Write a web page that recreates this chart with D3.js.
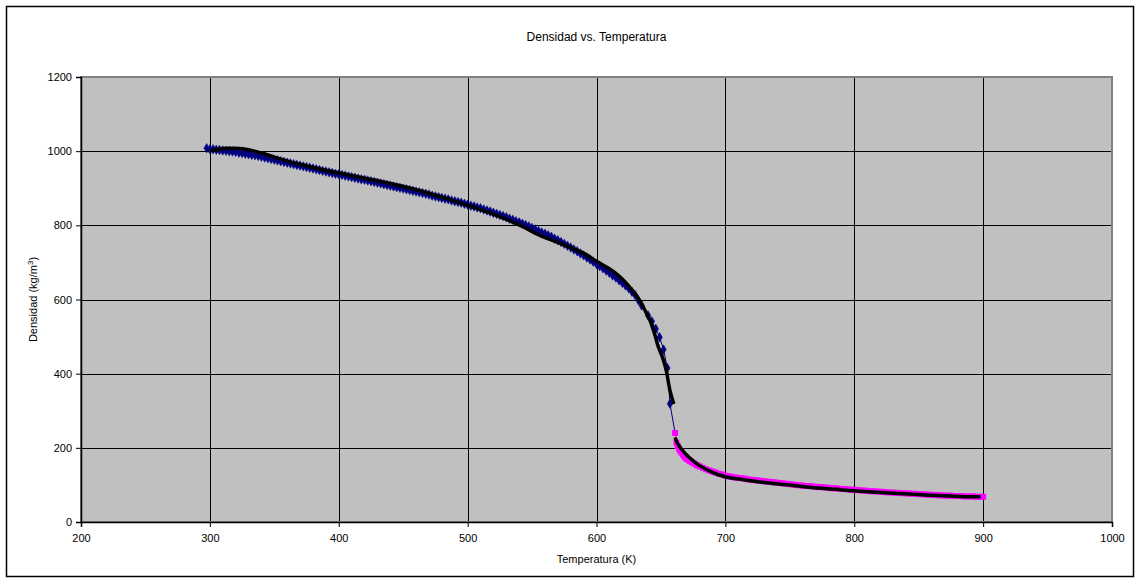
<!DOCTYPE html>
<html>
<head>
<meta charset="utf-8">
<script src="https://cdn.jsdelivr.net/npm/d3@7"></script>
<style>
  html, body { margin: 0; padding: 0; background: #fff; }
  svg { display: block; }
  text { font-family: "Liberation Sans", Arial, sans-serif; fill: #000; }
</style>
</head>
<body>
<svg id="chart" width="1141" height="583"></svg>
<script>
// Liquid-phase measurements (K, kg/m^3)
const liqTemp = [297.5, 300, 302.5, 305, 307.5, 310, 312.5, 315, 317.5, 320, 322.5, 325, 327.5, 330, 332.5, 335, 337.5, 340,
  342.5, 345, 347.5, 350, 352.5, 355, 357.5, 360, 362.5, 365, 367.5, 370, 372.5, 375, 377.5, 380, 382.5, 385, 387.5, 390,
  392.5, 395, 397.5, 400, 402.5, 405, 407.5, 410, 412.5, 415, 417.5, 420, 422.5, 425, 427.5, 430, 432.5, 435, 437.5, 440,
  442.5, 445, 447.5, 450, 452.5, 455, 457.5, 460, 462.5, 465, 467.5, 470, 472.5, 475, 477.5, 480, 482.5, 485, 487.5, 490,
  492.5, 495, 497.5, 500, 502.5, 505, 507.5, 510, 512.5, 515, 517.5, 520, 522.5, 525, 527.5, 530, 532.5, 535, 537.5, 540,
  542.5, 545, 547.5, 550, 552.5, 555, 557.5, 560, 562.5, 565, 567.5, 570, 572.5, 575, 577.5, 580, 582.5, 585, 587.5, 590,
  592.5, 595, 597.5, 600, 602.5, 605, 607.5, 610, 612.5, 615, 617.5, 620, 622.5, 625, 627.5, 630, 632.5, 635,
  640, 643, 646, 649, 652, 655, 657];
const liqDens = [1008, 1005, 1005, 1004, 1003, 1002, 1001, 1000, 999, 998, 996, 995, 993, 992, 990, 989, 987, 985,
  983, 981, 979, 977, 975, 973, 971, 969, 967, 965, 963, 961, 959, 957, 955, 953, 951, 949, 947, 945,
  943, 941, 939, 938, 936, 934, 932, 930, 928, 926, 924, 923, 921, 919, 917, 915, 913, 911, 909, 907,
  905, 903, 901, 899, 897, 895, 893, 891, 889, 887, 885, 883, 880, 878, 876, 874, 872, 870, 867, 865,
  863, 861, 858, 856, 853, 851, 848, 846, 843, 840, 837, 834, 831, 828, 825, 822, 818, 815, 811, 808,
  804, 801, 797, 793, 789, 785, 781, 777, 773, 769, 764, 760, 755, 750, 745, 740, 735, 730, 724, 719,
  713, 708, 702, 696, 690, 684, 678, 672, 665, 659, 652, 645, 638, 630, 621, 612, 598, 584,
  557, 541, 521, 498, 465, 415, 319];

// Vapour-phase measurements (K, kg/m^3)
const vapTemp = [661, 662, 663, 664, 665, 666, 667, 668, 669, 670, 672, 674, 676, 678, 680, 682.5, 685, 687.5, 690, 692.5, 695, 697.5,
  700, 702.5, 705, 707.5, 710, 712.5, 715, 717.5, 720, 722.5, 725, 727.5, 730, 732.5, 735, 737.5, 740, 742.5, 745, 747.5,
  750, 752.5, 755, 757.5, 760, 762.5, 765, 767.5, 770, 772.5, 775, 777.5, 780, 782.5, 785, 787.5, 790, 792.5, 795, 797.5,
  800, 802.5, 805, 807.5, 810, 812.5, 815, 817.5, 820, 822.5, 825, 827.5, 830, 832.5, 835, 837.5, 840, 842.5, 845, 847.5,
  850, 852.5, 855, 857.5, 860, 862.5, 865, 867.5, 870, 872.5, 875, 877.5, 880, 882.5, 885, 887.5, 890, 892.5, 895, 897.5, 900];
const vapDens = [240, 214, 205, 198, 192, 187, 182, 178, 174, 170, 165, 161, 157, 153, 150, 146, 142, 139, 136, 133, 130, 128,
  125, 123, 122, 120, 119, 118, 117, 115, 114, 113, 112, 111, 110, 109, 108, 107, 106, 105, 104, 103,
  102, 101, 100, 99, 98, 97, 97, 96, 95, 94, 94, 93, 92, 91, 91, 90, 89, 89, 88, 87,
  87, 86, 85, 85, 84, 83, 83, 82, 82, 81, 80, 80, 79, 79, 78, 78, 77, 77, 76, 76,
  75, 75, 74, 74, 73, 73, 72, 72, 71, 71, 71, 70, 70, 70, 69, 69, 69, 69, 68, 68, 68];

// Fitted model curves
const modelLiqTemp = [300, 305, 310, 315, 320, 330, 340, 350, 360, 380, 400, 430, 460, 480, 500, 520, 540, 556, 570, 582, 592, 600, 610, 618, 627, 633, 638, 641, 645, 648, 651, 654, 657, 660];
const modelLiqDens = [1000, 1004, 1007, 1008, 1008, 1004, 995, 984, 973, 956, 941, 920, 896, 876, 854, 830, 801, 773, 754, 737, 721, 703, 683, 662, 628, 600, 568, 548, 508, 472, 446, 410, 355, 318];
const modelVapTemp = [661, 663, 667, 672, 680, 690, 700, 712, 724, 737, 750, 765, 786, 800, 818, 835, 855, 874, 888, 898];
const modelVapDens = [228, 211, 192, 174, 152, 134, 122, 115, 109, 104, 100, 94, 88, 84, 80, 77, 73, 70, 68, 68];

const xTicks = [200, 300, 400, 500, 600, 700, 800, 900, 1000];
const yTicks = [0, 200, 400, 600, 800, 1000, 1200];

const svg = d3.select("#chart");
const plot = { left: 81, right: 1112, top: 77, bottom: 522 };

// outer frame
svg.append("rect")
  .attr("x", 6.5).attr("y", 6.5)
  .attr("width", 1127).attr("height", 570)
  .attr("fill", "#fff").attr("stroke", "#000").attr("stroke-width", 1.5);

const x = d3.scaleLinear().domain([200, 1000]).range([plot.left, plot.right]);
const y = d3.scaleLinear().domain([0, 1200]).range([plot.bottom, plot.top]);

// plot background
svg.append("rect")
  .attr("x", plot.left).attr("y", plot.top)
  .attr("width", plot.right - plot.left).attr("height", plot.bottom - plot.top)
  .attr("fill", "#c0c0c0");

// gridlines
const grid = svg.append("g");
grid.selectAll("line.v").data(xTicks.slice(1, -1)).join("line")
  .attr("x1", d => Math.round(x(d)) + 0.5).attr("x2", d => Math.round(x(d)) + 0.5)
  .attr("y1", plot.top).attr("y2", plot.bottom)
  .attr("stroke", "#000").attr("stroke-width", 1);
grid.selectAll("line.h").data(yTicks.slice(1, -1)).join("line")
  .attr("x1", plot.left).attr("x2", plot.right)
  .attr("y1", d => Math.round(y(d)) + 0.5).attr("y2", d => Math.round(y(d)) + 0.5)
  .attr("stroke", "#000").attr("stroke-width", 1);

// plot border (grey)
svg.append("rect")
  .attr("x", plot.left).attr("y", plot.top)
  .attr("width", plot.right - plot.left).attr("height", plot.bottom - plot.top)
  .attr("fill", "none").attr("stroke", "#808080").attr("stroke-width", 2);

// axes
const xAxis = d3.axisBottom(x).tickValues(xTicks).tickSize(5).tickPadding(7).tickFormat(d3.format("d"));
const gx = svg.append("g").attr("transform", `translate(0,${plot.bottom})`).call(xAxis);
gx.select(".domain").attr("stroke", "#000").attr("stroke-width", 1.5);
gx.selectAll(".tick line").attr("stroke", "#000");
gx.selectAll("text").attr("font-size", 11).style("font-family", "Liberation Sans, Arial, sans-serif");

const yAxis = d3.axisLeft(y).tickValues(yTicks).tickSize(5).tickPadding(4).tickFormat(d3.format("d"));
const gy = svg.append("g").attr("transform", `translate(${plot.left},0)`).call(yAxis);
gy.select(".domain").attr("stroke", "#000").attr("stroke-width", 1.5);
gy.selectAll(".tick line").attr("stroke", "#000");
gy.selectAll("text").attr("font-size", 11).style("font-family", "Liberation Sans, Arial, sans-serif");

// series
const liq = liqTemp.map((t, i) => [t, liqDens[i]]);
const vap = vapTemp.map((t, i) => [t, vapDens[i]]);
const mLiq = modelLiqTemp.map((t, i) => [t, modelLiqDens[i]]);
const mVap = modelVapTemp.map((t, i) => [t, modelVapDens[i]]);

const line = d3.line().x(d => x(d[0])).y(d => y(d[1]));

// measured series: liquid line runs on into the first vapour point
svg.append("path").datum(liq.concat([vap[0]]))
  .attr("d", line).attr("fill", "none").attr("stroke", "#000080").attr("stroke-width", 1);
svg.append("path").datum(vap)
  .attr("d", line).attr("fill", "none").attr("stroke", "#ff00ff").attr("stroke-width", 1);

const diamond = d3.symbol().type(d3.symbolDiamond).size(26);
svg.append("g").selectAll("path").data(liq).join("path")
  .attr("d", diamond)
  .attr("transform", d => `translate(${x(d[0])},${y(d[1])})`)
  .attr("fill", "#000080").attr("stroke", "#000080").attr("stroke-width", 0.5);

svg.append("g").selectAll("rect").data(vap).join("rect")
  .attr("x", d => x(d[0]) - 3).attr("y", d => y(d[1]) - 3)
  .attr("width", 6).attr("height", 6)
  .attr("fill", "#ff00ff");

// model curves (thick black)
const smooth = d3.line().x(d => x(d[0])).y(d => y(d[1])).curve(d3.curveCatmullRom.alpha(0.5));
svg.append("path").datum(mLiq)
  .attr("d", smooth).attr("fill", "none").attr("stroke", "#000").attr("stroke-width", 3.5).attr("stroke-linejoin", "round");
svg.append("path").datum(mVap)
  .attr("d", smooth).attr("fill", "none").attr("stroke", "#000").attr("stroke-width", 3.5).attr("stroke-linejoin", "round");

// titles
const cx = (plot.left + plot.right) / 2;
svg.append("text").attr("x", cx).attr("y", 41).attr("text-anchor", "middle")
  .attr("font-size", 12).text("Densidad vs. Temperatura");
svg.append("text").attr("x", cx).attr("y", 563).attr("text-anchor", "middle")
  .attr("font-size", 11).text("Temperatura (K)");
const yt = svg.append("text")
  .attr("transform", `translate(37,${(plot.top + plot.bottom) / 2}) rotate(-90)`)
  .attr("text-anchor", "middle").attr("font-size", 11);
yt.append("tspan").text("Densidad (kg/m");
yt.append("tspan").attr("font-size", 8).attr("dy", -4).text("3");
yt.append("tspan").attr("dy", 4).text(")");
</script>
</body>
</html>
